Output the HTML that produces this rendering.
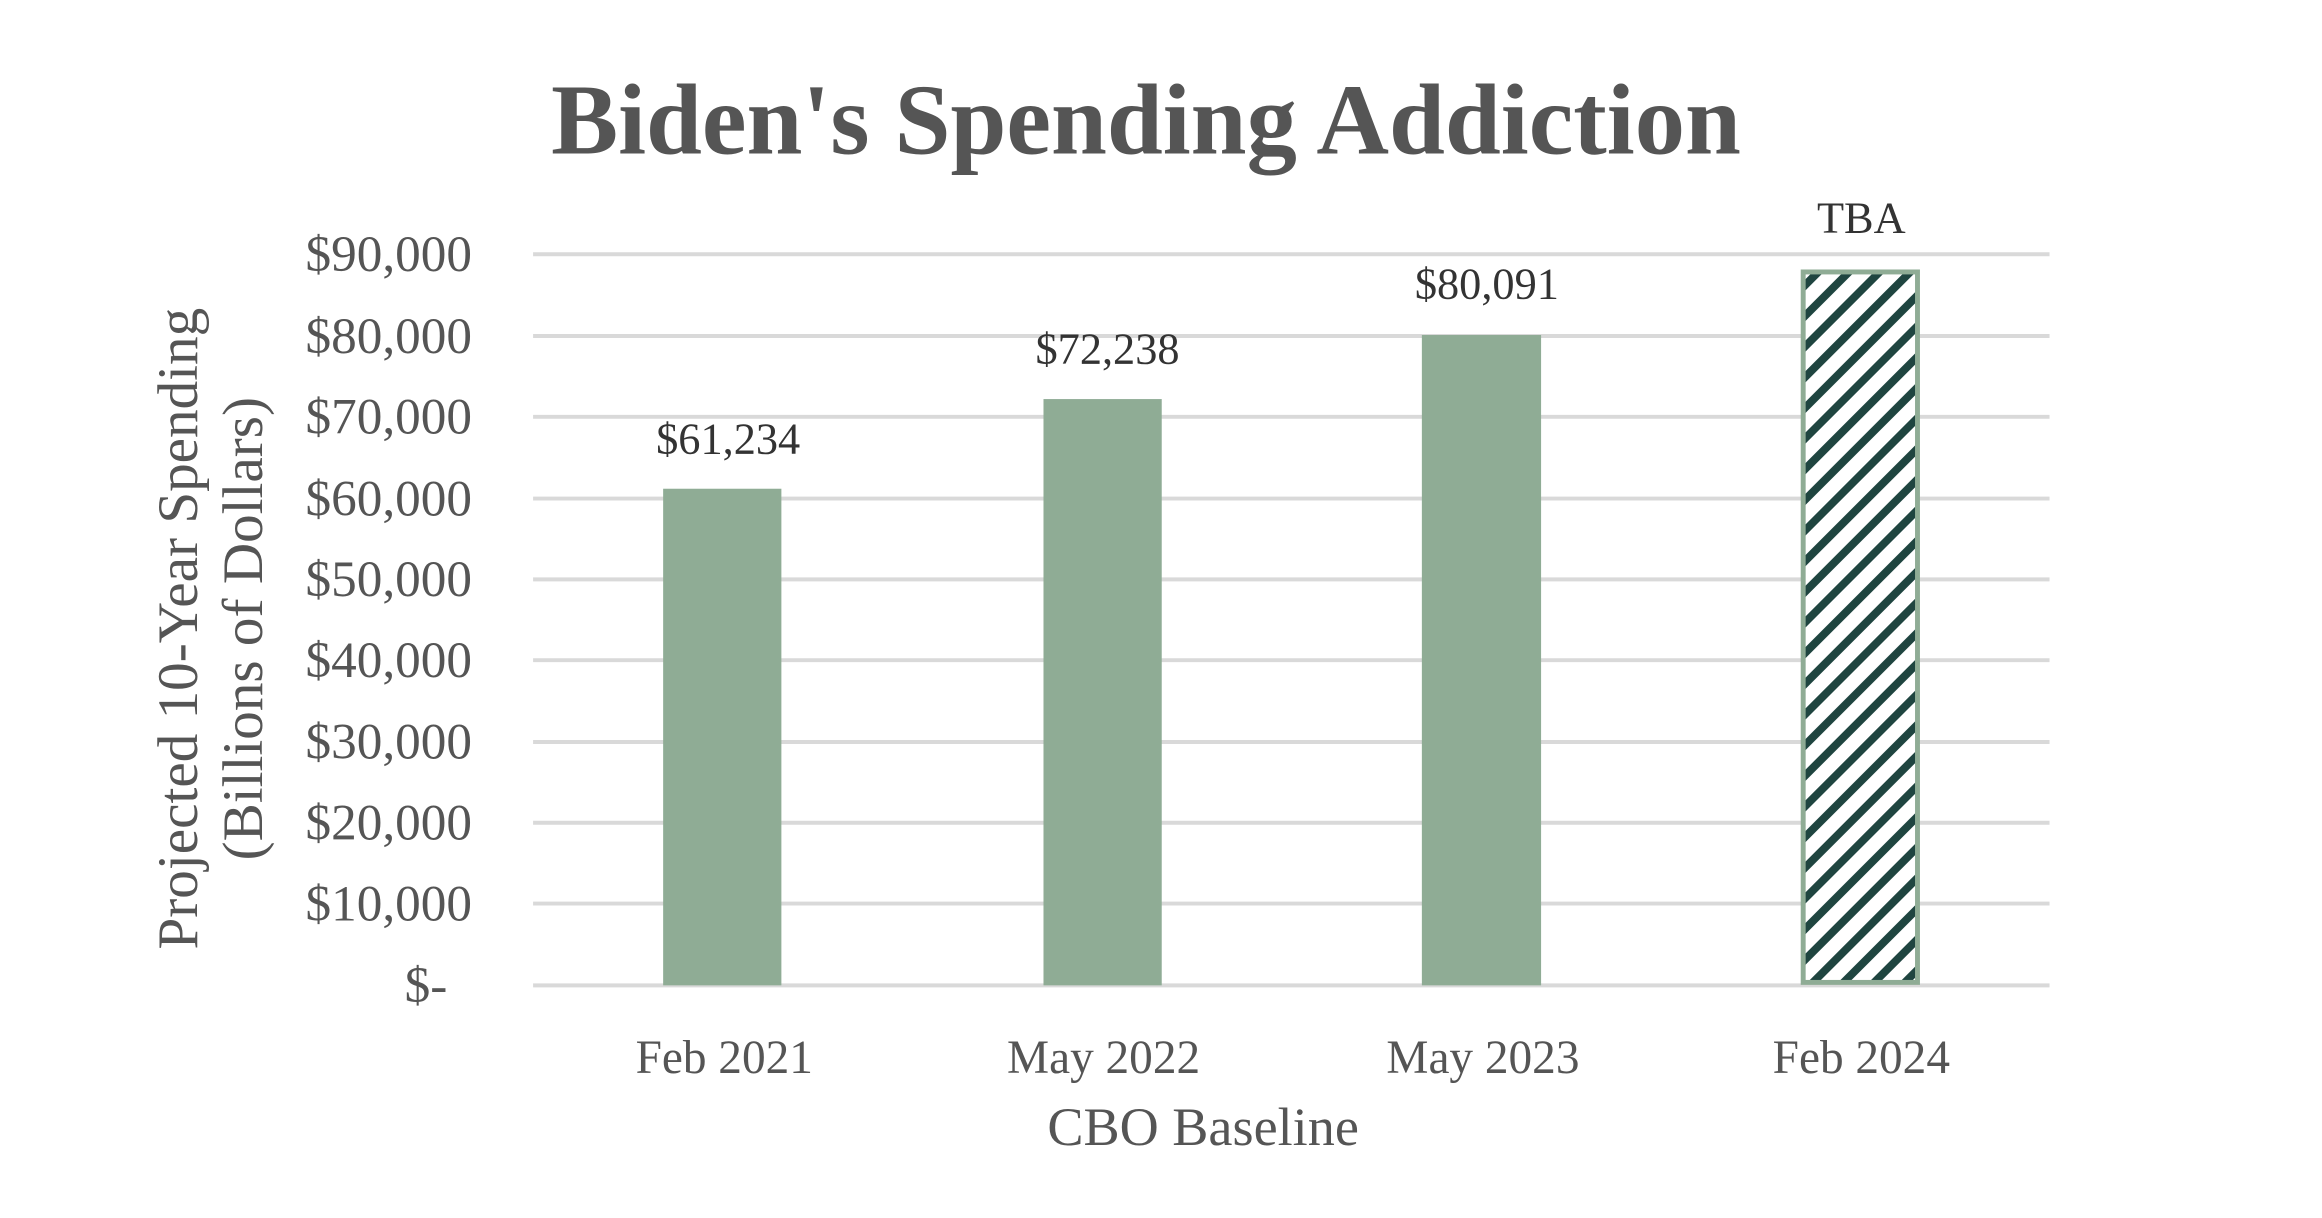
<!DOCTYPE html>
<html><head><meta charset="utf-8"><style>
html,body{margin:0;padding:0;background:#fff}
svg{display:block}
text{font-family:"Liberation Serif",serif}
</style></head><body>
<svg width="2322" height="1218" viewBox="0 0 2322 1218" xmlns="http://www.w3.org/2000/svg">
<defs>
<pattern id="st" patternUnits="userSpaceOnUse" width="22" height="22" patternTransform="rotate(45)">
<rect width="22" height="22" fill="#fff"/>
<rect width="8" height="22" fill="#1f4540"/>
</pattern>
</defs>
<g transform="scale(0.98535)">
<text x="1163" y="156" text-anchor="middle" font-size="102" font-weight="bold" fill="#555">Biden's Spending Addiction</text>
<g stroke="#d9d9d9" stroke-width="4">
<line x1="541" x2="2080" y1="258" y2="258"/>
<line x1="541" x2="2080" y1="341" y2="341"/>
<line x1="541" x2="2080" y1="423" y2="423"/>
<line x1="541" x2="2080" y1="506" y2="506"/>
<line x1="541" x2="2080" y1="588" y2="588"/>
<line x1="541" x2="2080" y1="670" y2="670"/>
<line x1="541" x2="2080" y1="753" y2="753"/>
<line x1="541" x2="2080" y1="835" y2="835"/>
<line x1="541" x2="2080" y1="917" y2="917"/>
<line x1="541" x2="2080" y1="1000" y2="1000"/>
</g>
<g font-size="52" fill="#555" text-anchor="end">
<text x="479" y="275">$90,000</text>
<text x="479" y="358">$80,000</text>
<text x="479" y="440">$70,000</text>
<text x="479" y="523">$60,000</text>
<text x="479" y="605">$50,000</text>
<text x="479" y="687">$40,000</text>
<text x="479" y="770">$30,000</text>
<text x="479" y="852">$20,000</text>
<text x="479" y="934">$10,000</text>
<text x="454" y="1017">$-</text>
</g>
<g fill="#8fac95">
<rect x="673" y="496" width="120" height="504"/>
<rect x="1059" y="405" width="120" height="595"/>
<rect x="1443" y="340" width="121" height="660"/>
</g>
<rect x="1830" y="276" width="116" height="721" fill="url(#st)" stroke="#8fac95" stroke-width="5"/>
<g font-size="45" fill="#333" text-anchor="middle">
<text x="739" y="460">$61,234</text>
<text x="1124" y="369">$72,238</text>
<text x="1509" y="303">$80,091</text>
<text x="1889" y="236">TBA</text>
</g>
<g font-size="48" fill="#555" text-anchor="middle">
<text x="735" y="1089">Feb 2021</text>
<text x="1120" y="1089">May 2022</text>
<text x="1505" y="1089">May 2023</text>
<text x="1889" y="1089">Feb 2024</text>
</g>
<text x="1221" y="1162" font-size="55" fill="#555" text-anchor="middle">CBO Baseline</text>
<g font-size="58" fill="#555" text-anchor="middle">
<text transform="translate(200,638) rotate(-90)">Projected 10-Year Spending</text>
<text transform="translate(266,638) rotate(-90)">(Billions of Dollars)</text>
</g>
</g>
</svg>
</body></html>
